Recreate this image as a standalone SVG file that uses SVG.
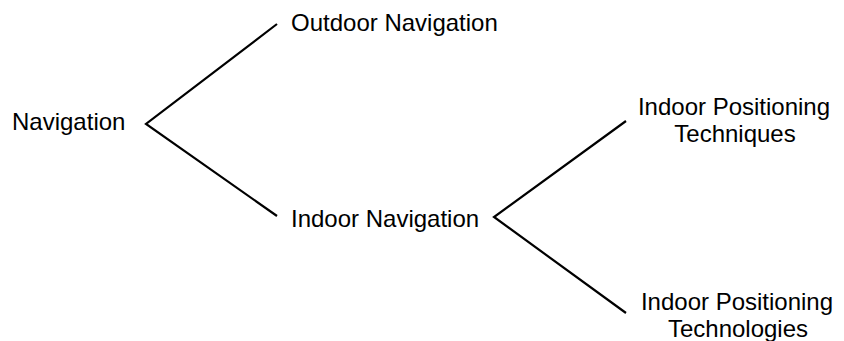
<svg xmlns="http://www.w3.org/2000/svg" width="844" height="341" viewBox="0 0 844 341">
<style>
text{font-family:"Liberation Sans",Arial,sans-serif;font-size:24px;fill:#000}
.c{stroke:#000;stroke-width:2.2;fill:none}
</style>
<rect width="844" height="341" fill="#fff"/>
<g id="connectors">
<polyline class="c" points="277,24 146,124 277,216"/>
<polyline class="c" points="626,121 494,217 626,313"/>
</g>
<g id="navigation"><text x="12" y="130">Navigation</text></g>
<g id="outdoor"><text x="291" y="31">Outdoor Navigation</text></g>
<g id="indoor"><text x="291" y="227">Indoor Navigation</text></g>
<g id="techniques"><text x="734" y="115" text-anchor="middle">Indoor Positioning</text><text x="735" y="142" text-anchor="middle">Techniques</text></g>
<g id="technologies"><text x="737" y="310" text-anchor="middle">Indoor Positioning</text><text x="738" y="337" text-anchor="middle">Technologies</text></g>
</svg>
